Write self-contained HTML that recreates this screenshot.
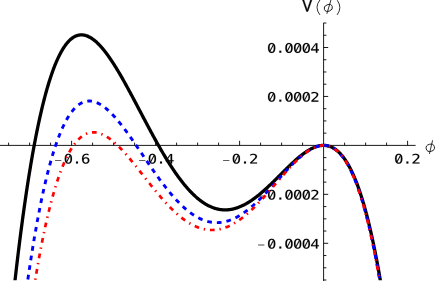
<!DOCTYPE html><html><head><meta charset="utf-8"><style>html,body{margin:0;padding:0;background:#fff;}body{width:436px;height:281px;overflow:hidden;position:relative;}</style></head><body><svg width="436" height="281" viewBox="0 0 436 281" style="position:absolute;left:0;top:0"><defs><clipPath id="c"><rect x="0" y="0" width="436" height="280.3"/></clipPath></defs><rect width="436" height="281" fill="#fff"/><path d="M0,145.4 H415.6 M323.6,22.8 V281 M8.60,145.4 v-2.8 M29.60,145.4 v-2.8 M50.60,145.4 v-2.8 M71.60,145.4 v-4.6 M92.60,145.4 v-2.8 M113.60,145.4 v-2.8 M134.60,145.4 v-2.8 M155.60,145.4 v-4.6 M176.60,145.4 v-2.8 M197.60,145.4 v-2.8 M218.60,145.4 v-2.8 M239.60,145.4 v-4.6 M260.60,145.4 v-2.8 M281.60,145.4 v-2.8 M302.60,145.4 v-2.8 M344.60,145.4 v-2.8 M365.60,145.4 v-2.8 M386.60,145.4 v-2.8 M407.60,145.4 v-4.6 M323.6,280.01 h2.8 M323.6,267.77 h2.8 M323.6,255.54 h2.8 M323.6,243.30 h4.6 M323.6,231.06 h2.8 M323.6,218.83 h2.8 M323.6,206.59 h2.8 M323.6,194.35 h4.6 M323.6,182.11 h2.8 M323.6,169.88 h2.8 M323.6,157.64 h2.8 M323.6,133.16 h2.8 M323.6,120.93 h2.8 M323.6,108.69 h2.8 M323.6,96.45 h4.6 M323.6,84.21 h2.8 M323.6,71.97 h2.8 M323.6,59.74 h2.8 M323.6,47.50 h4.6 M323.6,35.26 h2.8 M323.6,23.03 h2.8" stroke="#000" stroke-width="0.9" fill="none"/><defs><g id="g0"><path d="M616 1360Q475 1360 406 1208Q336 1056 336 745Q336 435 406 283Q475 131 616 131Q758 131 828 283Q897 435 897 745Q897 1056 828 1208Q758 1360 616 1360ZM616 1520Q855 1520 978 1324Q1100 1128 1100 745Q1100 363 978 167Q855 -29 616 -29Q377 -29 255 167Q133 363 133 745Q133 1128 255 1324Q377 1520 616 1520Z"/><path d="M326,256L434,204L906,1234L798,1286Z"/></g><path id="gp" d="M489 305H741V0H489Z"/><path id="g2" d="M373 170H1059V0H152V170Q339 367 479 518Q619 669 672 731Q772 853 807 928Q842 1004 842 1083Q842 1208 768 1279Q695 1350 567 1350Q476 1350 376 1317Q276 1284 164 1217V1421Q267 1470 366 1495Q466 1520 563 1520Q782 1520 916 1404Q1049 1287 1049 1098Q1049 1002 1004 906Q960 810 860 694Q804 629 698 514Q591 399 373 170Z"/><path id="g4" d="M735 1309 264 520H735ZM702 1493H936V520H1135V356H936V0H735V356H102V547Z"/><path id="g6" d="M991 1460V1274Q928 1311 857 1330Q786 1350 709 1350Q517 1350 418 1206Q319 1061 319 780Q367 880 452 934Q537 987 647 987Q863 987 982 854Q1100 722 1100 479Q1100 237 978 104Q856 -29 635 -29Q375 -29 254 158Q133 344 133 745Q133 1123 278 1322Q424 1520 700 1520Q774 1520 848 1504Q922 1489 991 1460ZM631 829Q502 829 428 736Q354 643 354 479Q354 315 428 222Q502 129 631 129Q765 129 833 218Q901 306 901 479Q901 653 833 741Q765 829 631 829Z"/></defs><g fill="#000" stroke="#000"><path d="M55.07,160.50 h6.3" stroke="#333" stroke-width="0.8" fill="none"/><use href="#g0" transform="translate(68.37,163.50) scale(0.0076,-0.0064) translate(-616.5,0)" stroke-width="21.1"/><use href="#gp" transform="translate(77.03,163.50) scale(0.0076,-0.0064) translate(-616.5,0)" stroke-width="21.1"/><use href="#g6" transform="translate(85.69,163.50) scale(0.0076,-0.0064) translate(-616.5,0)" stroke-width="21.1"/></g><g fill="#000" stroke="#000"><path d="M139.07,160.50 h6.3" stroke="#333" stroke-width="0.8" fill="none"/><use href="#g0" transform="translate(152.37,163.50) scale(0.0076,-0.0064) translate(-616.5,0)" stroke-width="21.1"/><use href="#gp" transform="translate(161.03,163.50) scale(0.0076,-0.0064) translate(-616.5,0)" stroke-width="21.1"/><use href="#g4" transform="translate(169.69,163.50) scale(0.0076,-0.0064) translate(-616.5,0)" stroke-width="21.1"/></g><g fill="#000" stroke="#000"><path d="M223.07,160.50 h6.3" stroke="#333" stroke-width="0.8" fill="none"/><use href="#g0" transform="translate(236.37,163.50) scale(0.0076,-0.0064) translate(-616.5,0)" stroke-width="21.1"/><use href="#gp" transform="translate(245.03,163.50) scale(0.0076,-0.0064) translate(-616.5,0)" stroke-width="21.1"/><use href="#g2" transform="translate(253.69,163.50) scale(0.0076,-0.0064) translate(-616.5,0)" stroke-width="21.1"/></g><g fill="#000" stroke="#000"><use href="#g0" transform="translate(398.74,163.50) scale(0.0076,-0.0064) translate(-616.5,0)" stroke-width="21.1"/><use href="#gp" transform="translate(407.40,163.50) scale(0.0076,-0.0064) translate(-616.5,0)" stroke-width="21.1"/><use href="#g2" transform="translate(416.06,163.50) scale(0.0076,-0.0064) translate(-616.5,0)" stroke-width="21.1"/></g><g fill="#000" stroke="#000"><use href="#g0" transform="translate(271.67,52.70) scale(0.0076,-0.0064) translate(-616.5,0)" stroke-width="21.1"/><use href="#gp" transform="translate(280.33,52.70) scale(0.0076,-0.0064) translate(-616.5,0)" stroke-width="21.1"/><use href="#g0" transform="translate(288.99,52.70) scale(0.0076,-0.0064) translate(-616.5,0)" stroke-width="21.1"/><use href="#g0" transform="translate(297.65,52.70) scale(0.0076,-0.0064) translate(-616.5,0)" stroke-width="21.1"/><use href="#g0" transform="translate(306.31,52.70) scale(0.0076,-0.0064) translate(-616.5,0)" stroke-width="21.1"/><use href="#g4" transform="translate(314.97,52.70) scale(0.0076,-0.0064) translate(-616.5,0)" stroke-width="21.1"/></g><g fill="#000" stroke="#000"><use href="#g0" transform="translate(271.67,101.65) scale(0.0076,-0.0064) translate(-616.5,0)" stroke-width="21.1"/><use href="#gp" transform="translate(280.33,101.65) scale(0.0076,-0.0064) translate(-616.5,0)" stroke-width="21.1"/><use href="#g0" transform="translate(288.99,101.65) scale(0.0076,-0.0064) translate(-616.5,0)" stroke-width="21.1"/><use href="#g0" transform="translate(297.65,101.65) scale(0.0076,-0.0064) translate(-616.5,0)" stroke-width="21.1"/><use href="#g0" transform="translate(306.31,101.65) scale(0.0076,-0.0064) translate(-616.5,0)" stroke-width="21.1"/><use href="#g2" transform="translate(314.97,101.65) scale(0.0076,-0.0064) translate(-616.5,0)" stroke-width="21.1"/></g><g fill="#000" stroke="#000"><path d="M258.10,196.05 h6.3" stroke="#a4a4a4" stroke-width="2.0" fill="none"/><use href="#g0" transform="translate(271.67,199.55) scale(0.0076,-0.0064) translate(-616.5,0)" stroke-width="21.1"/><use href="#gp" transform="translate(280.33,199.55) scale(0.0076,-0.0064) translate(-616.5,0)" stroke-width="21.1"/><use href="#g0" transform="translate(288.99,199.55) scale(0.0076,-0.0064) translate(-616.5,0)" stroke-width="21.1"/><use href="#g0" transform="translate(297.65,199.55) scale(0.0076,-0.0064) translate(-616.5,0)" stroke-width="21.1"/><use href="#g0" transform="translate(306.31,199.55) scale(0.0076,-0.0064) translate(-616.5,0)" stroke-width="21.1"/><use href="#g2" transform="translate(314.97,199.55) scale(0.0076,-0.0064) translate(-616.5,0)" stroke-width="21.1"/></g><g fill="#000" stroke="#000"><path d="M258.10,245.00 h6.3" stroke="#a4a4a4" stroke-width="2.0" fill="none"/><use href="#g0" transform="translate(271.67,248.50) scale(0.0076,-0.0064) translate(-616.5,0)" stroke-width="21.1"/><use href="#gp" transform="translate(280.33,248.50) scale(0.0076,-0.0064) translate(-616.5,0)" stroke-width="21.1"/><use href="#g0" transform="translate(288.99,248.50) scale(0.0076,-0.0064) translate(-616.5,0)" stroke-width="21.1"/><use href="#g0" transform="translate(297.65,248.50) scale(0.0076,-0.0064) translate(-616.5,0)" stroke-width="21.1"/><use href="#g0" transform="translate(306.31,248.50) scale(0.0076,-0.0064) translate(-616.5,0)" stroke-width="21.1"/><use href="#g4" transform="translate(314.97,248.50) scale(0.0076,-0.0064) translate(-616.5,0)" stroke-width="21.1"/></g><g clip-path="url(#c)" fill="none"><path d="M4.40,386.32 L4.98,379.93 L5.55,373.61 L6.13,367.37 L6.71,361.21 L7.28,355.12 L7.86,349.10 L8.44,343.16 L9.01,337.29 L9.59,331.49 L10.17,325.77 L10.75,320.11 L11.32,314.53 L11.90,309.02 L12.48,303.58 L13.05,298.20 L13.63,292.90 L14.21,287.67 L14.78,282.50 L15.36,277.40 L15.94,272.37 L16.51,267.41 L17.09,262.51 L17.67,257.68 L18.24,252.91 L18.82,248.21 L19.40,243.58 L19.97,239.00 L20.55,234.50 L21.13,230.05 L21.70,225.67 L22.28,221.35 L22.86,217.09 L23.44,212.90 L24.01,208.76 L24.59,204.69 L25.17,200.67 L25.74,196.72 L26.32,192.83 L26.90,188.99 L27.47,185.21 L28.05,181.49 L28.63,177.83 L29.20,174.23 L29.78,170.68 L30.36,167.19 L30.93,163.76 L31.51,160.38 L32.09,157.06 L32.66,153.79 L33.24,150.57 L33.82,147.41 L34.39,144.30 L34.97,141.25 L35.55,138.25 L36.13,135.30 L36.70,132.40 L37.28,129.56 L37.86,126.76 L38.43,124.02 L39.01,121.32 L39.59,118.68 L40.16,116.08 L40.74,113.54 L41.32,111.04 L41.89,108.59 L42.47,106.19 L43.05,103.84 L43.62,101.53 L44.20,99.27 L44.78,97.06 L45.35,94.89 L45.93,92.77 L46.51,90.69 L47.08,88.66 L47.66,86.68 L48.24,84.73 L48.82,82.83 L49.39,80.98 L49.97,79.16 L50.55,77.39 L51.12,75.66 L51.70,73.97 L52.28,72.33 L52.85,70.72 L53.43,69.16 L54.01,67.63 L54.58,66.15 L55.16,64.70 L55.74,63.30 L56.31,61.93 L56.89,60.60 L57.47,59.31 L58.04,58.06 L58.62,56.84 L59.20,55.66 L59.78,54.52 L60.35,53.41 L60.93,52.34 L61.51,51.31 L62.08,50.31 L62.66,49.35 L63.24,48.42 L63.81,47.52 L64.39,46.66 L64.97,45.83 L65.54,45.04 L66.12,44.27 L66.70,43.54 L67.27,42.85 L67.85,42.18 L68.43,41.55 L69.00,40.94 L69.58,40.37 L70.16,39.83 L70.73,39.31 L71.31,38.83 L71.89,38.38 L72.47,37.96 L73.04,37.56 L73.62,37.19 L74.20,36.86 L74.77,36.55 L75.35,36.26 L75.93,36.01 L76.50,35.78 L77.08,35.58 L77.66,35.40 L78.23,35.25 L78.81,35.13 L79.39,35.03 L79.96,34.95 L80.54,34.90 L81.12,34.88 L81.69,34.88 L82.27,34.90 L82.85,34.95 L83.42,35.02 L84.00,35.11 L84.58,35.22 L85.16,35.36 L85.73,35.52 L86.31,35.70 L86.89,35.90 L87.46,36.13 L88.04,36.37 L88.62,36.64 L89.19,36.92 L89.77,37.23 L90.35,37.55 L90.92,37.90 L91.50,38.26 L92.08,38.64 L92.65,39.04 L93.23,39.46 L93.81,39.90 L94.38,40.35 L94.96,40.82 L95.54,41.31 L96.12,41.82 L96.69,42.34 L97.27,42.88 L97.85,43.44 L98.42,44.01 L99.00,44.59 L99.58,45.20 L100.15,45.81 L100.73,46.44 L101.31,47.09 L101.88,47.75 L102.46,48.43 L103.04,49.11 L103.61,49.82 L104.19,50.53 L104.77,51.26 L105.34,52.00 L105.92,52.75 L106.50,53.52 L107.07,54.29 L107.65,55.08 L108.23,55.88 L108.81,56.70 L109.38,57.52 L109.96,58.35 L110.54,59.20 L111.11,60.05 L111.69,60.91 L112.27,61.79 L112.84,62.67 L113.42,63.57 L114.00,64.47 L114.57,65.38 L115.15,66.30 L115.73,67.23 L116.30,68.16 L116.88,69.11 L117.46,70.06 L118.03,71.02 L118.61,71.99 L119.19,72.96 L119.76,73.94 L120.34,74.93 L120.92,75.92 L121.50,76.93 L122.07,77.93 L122.65,78.94 L123.23,79.96 L123.80,80.99 L124.38,82.01 L124.96,83.05 L125.53,84.09 L126.11,85.13 L126.69,86.18 L127.26,87.23 L127.84,88.28 L128.42,89.34 L128.99,90.41 L129.57,91.47 L130.15,92.54 L130.72,93.62 L131.30,94.69 L131.88,95.77 L132.45,96.85 L133.03,97.93 L133.61,99.02 L134.19,100.11 L134.76,101.20 L135.34,102.29 L135.92,103.38 L136.49,104.47 L137.07,105.56 L137.65,106.66 L138.22,107.76 L138.80,108.85 L139.38,109.95 L139.95,111.04 L140.53,112.14 L141.11,113.24 L141.68,114.33 L142.26,115.43 L142.84,116.52 L143.41,117.62 L143.99,118.71 L144.57,119.80 L145.15,120.89 L145.72,121.98 L146.30,123.07 L146.88,124.15 L147.45,125.24 L148.03,126.32 L148.61,127.40 L149.18,128.48 L149.76,129.55 L150.34,130.62 L150.91,131.69 L151.49,132.76 L152.07,133.82 L152.64,134.88 L153.22,135.94 L153.80,136.99 L154.37,138.04 L154.95,139.08 L155.53,140.12 L156.10,141.16 L156.68,142.20 L157.26,143.22 L157.84,144.25 L158.41,145.27 L158.99,146.28 L159.57,147.29 L160.14,148.30 L160.72,149.30 L161.30,150.30 L161.87,151.29 L162.45,152.27 L163.03,153.25 L163.60,154.22 L164.18,155.19 L164.76,156.15 L165.33,157.11 L165.91,158.06 L166.49,159.00 L167.06,159.94 L167.64,160.87 L168.22,161.80 L168.79,162.71 L169.37,163.63 L169.95,164.53 L170.53,165.43 L171.10,166.32 L171.68,167.20 L172.26,168.08 L172.83,168.95 L173.41,169.81 L173.99,170.66 L174.56,171.51 L175.14,172.35 L175.72,173.18 L176.29,174.01 L176.87,174.82 L177.45,175.63 L178.02,176.43 L178.60,177.22 L179.18,178.00 L179.75,178.78 L180.33,179.55 L180.91,180.30 L181.48,181.05 L182.06,181.80 L182.64,182.53 L183.22,183.25 L183.79,183.97 L184.37,184.68 L184.95,185.37 L185.52,186.06 L186.10,186.74 L186.68,187.41 L187.25,188.07 L187.83,188.73 L188.41,189.37 L188.98,190.00 L189.56,190.63 L190.14,191.24 L190.71,191.85 L191.29,192.45 L191.87,193.03 L192.44,193.61 L193.02,194.18 L193.60,194.73 L194.18,195.28 L194.75,195.82 L195.33,196.35 L195.91,196.87 L196.48,197.38 L197.06,197.88 L197.64,198.37 L198.21,198.85 L198.79,199.31 L199.37,199.77 L199.94,200.22 L200.52,200.66 L201.10,201.09 L201.67,201.51 L202.25,201.92 L202.83,202.32 L203.40,202.71 L203.98,203.08 L204.56,203.45 L205.13,203.81 L205.71,204.16 L206.29,204.49 L206.87,204.82 L207.44,205.14 L208.02,205.45 L208.60,205.74 L209.17,206.03 L209.75,206.30 L210.33,206.57 L210.90,206.82 L211.48,207.07 L212.06,207.30 L212.63,207.53 L213.21,207.74 L213.79,207.95 L214.36,208.14 L214.94,208.32 L215.52,208.49 L216.09,208.66 L216.67,208.81 L217.25,208.95 L217.82,209.08 L218.40,209.21 L218.98,209.32 L219.56,209.42 L220.13,209.51 L220.71,209.59 L221.29,209.66 L221.86,209.72 L222.44,209.78 L223.02,209.82 L223.59,209.85 L224.17,209.87 L224.75,209.88 L225.32,209.88 L225.90,209.87 L226.48,209.86 L227.05,209.83 L227.63,209.79 L228.21,209.74 L228.78,209.69 L229.36,209.62 L229.94,209.54 L230.52,209.46 L231.09,209.36 L231.67,209.26 L232.25,209.14 L232.82,209.02 L233.40,208.89 L233.98,208.75 L234.55,208.60 L235.13,208.44 L235.71,208.27 L236.28,208.09 L236.86,207.90 L237.44,207.71 L238.01,207.50 L238.59,207.29 L239.17,207.07 L239.74,206.84 L240.32,206.60 L240.90,206.35 L241.47,206.10 L242.05,205.83 L242.63,205.56 L243.21,205.28 L243.78,204.99 L244.36,204.70 L244.94,204.39 L245.51,204.08 L246.09,203.76 L246.67,203.44 L247.24,203.10 L247.82,202.76 L248.40,202.41 L248.97,202.05 L249.55,201.69 L250.13,201.32 L250.70,200.94 L251.28,200.56 L251.86,200.16 L252.43,199.76 L253.01,199.36 L253.59,198.95 L254.16,198.53 L254.74,198.11 L255.32,197.68 L255.90,197.24 L256.47,196.80 L257.05,196.35 L257.63,195.89 L258.20,195.43 L258.78,194.97 L259.36,194.50 L259.93,194.02 L260.51,193.54 L261.09,193.06 L261.66,192.56 L262.24,192.07 L262.82,191.57 L263.39,191.06 L263.97,190.55 L264.55,190.04 L265.12,189.52 L265.70,189.00 L266.28,188.47 L266.85,187.94 L267.43,187.41 L268.01,186.87 L268.59,186.33 L269.16,185.79 L269.74,185.24 L270.32,184.70 L270.89,184.14 L271.47,183.59 L272.05,183.03 L272.62,182.47 L273.20,181.91 L273.78,181.35 L274.35,180.78 L274.93,180.21 L275.51,179.65 L276.08,179.08 L276.66,178.50 L277.24,177.93 L277.81,177.36 L278.39,176.78 L278.97,176.21 L279.55,175.63 L280.12,175.06 L280.70,174.48 L281.28,173.91 L281.85,173.33 L282.43,172.76 L283.01,172.18 L283.58,171.61 L284.16,171.04 L284.74,170.46 L285.31,169.89 L285.89,169.33 L286.47,168.76 L287.04,168.19 L287.62,167.63 L288.20,167.07 L288.77,166.51 L289.35,165.95 L289.93,165.40 L290.50,164.85 L291.08,164.30 L291.66,163.76 L292.24,163.22 L292.81,162.68 L293.39,162.15 L293.97,161.62 L294.54,161.10 L295.12,160.58 L295.70,160.07 L296.27,159.56 L296.85,159.05 L297.43,158.56 L298.00,158.06 L298.58,157.58 L299.16,157.09 L299.73,156.62 L300.31,156.15 L300.89,155.69 L301.46,155.23 L302.04,154.79 L302.62,154.35 L303.19,153.91 L303.77,153.49 L304.35,153.07 L304.93,152.66 L305.50,152.26 L306.08,151.87 L306.66,151.49 L307.23,151.12 L307.81,150.75 L308.39,150.40 L308.96,150.05 L309.54,149.72 L310.12,149.40 L310.69,149.08 L311.27,148.78 L311.85,148.49 L312.42,148.21 L313.00,147.94 L313.58,147.69 L314.15,147.44 L314.73,147.21 L315.31,146.99 L315.88,146.79 L316.46,146.59 L317.04,146.42 L317.62,146.25 L318.19,146.10 L318.77,145.96 L319.35,145.84 L319.92,145.73 L320.50,145.63 L321.08,145.56 L321.65,145.49 L322.23,145.45 L322.81,145.42 L323.38,145.40 L323.96,145.40 L324.54,145.42 L325.11,145.46 L325.69,145.51 L326.27,145.58 L326.84,145.67 L327.42,145.78 L328.00,145.91 L328.58,146.05 L329.15,146.22 L329.73,146.40 L330.31,146.61 L330.88,146.83 L331.46,147.08 L332.04,147.35 L332.61,147.63 L333.19,147.94 L333.77,148.27 L334.34,148.63 L334.92,149.00 L335.50,149.40 L336.07,149.82 L336.65,150.27 L337.23,150.74 L337.80,151.23 L338.38,151.75 L338.96,152.29 L339.53,152.86 L340.11,153.46 L340.69,154.08 L341.27,154.72 L341.84,155.39 L342.42,156.09 L343.00,156.82 L343.57,157.57 L344.15,158.36 L344.73,159.17 L345.30,160.01 L345.88,160.88 L346.46,161.78 L347.03,162.70 L347.61,163.66 L348.19,164.65 L348.76,165.67 L349.34,166.72 L349.92,167.81 L350.49,168.92 L351.07,170.07 L351.65,171.25 L352.22,172.46 L352.80,173.71 L353.38,174.99 L353.96,176.31 L354.53,177.66 L355.11,179.04 L355.69,180.47 L356.26,181.92 L356.84,183.42 L357.42,184.95 L357.99,186.52 L358.57,188.12 L359.15,189.77 L359.72,191.45 L360.30,193.17 L360.88,194.93 L361.45,196.73 L362.03,198.57 L362.61,200.45 L363.18,202.37 L363.76,204.34 L364.34,206.34 L364.92,208.39 L365.49,210.48 L366.07,212.61 L366.65,214.79 L367.22,217.01 L367.80,219.27 L368.38,221.58 L368.95,223.94 L369.53,226.34 L370.11,228.79 L370.68,231.28 L371.26,233.82 L371.84,236.41 L372.41,239.05 L372.99,241.73 L373.57,244.46 L374.14,247.25 L374.72,250.08 L375.30,252.96 L375.87,255.90 L376.45,258.88 L377.03,261.92 L377.61,265.01 L378.18,268.15 L378.76,271.35 L379.34,274.60 L379.91,277.90 L380.49,281.26 L381.07,284.67 L381.64,288.14 L382.22,291.66 L382.80,295.24 L383.37,298.88 L383.95,302.58 L384.53,306.33 L385.10,310.14 L385.68,314.02 L386.26,317.95 L386.83,321.94 L387.41,325.99 L387.99,330.10 L388.56,334.28 L389.14,338.51 L389.72,342.81 L390.30,347.17 L390.87,351.60 L391.45,356.09 L392.03,360.65 L392.60,365.27 L393.18,369.95 L393.76,374.70 L394.33,379.52 L394.91,384.41 L395.49,389.37 L396.06,394.39 L396.64,399.48 L397.22,404.64 L397.79,409.88 L398.37,415.18 L398.95,420.55 L399.52,426.00 L400.10,431.52 L400.68,437.11 L401.25,442.77 L401.83,448.51 L402.41,454.32 L402.99,460.21 L403.56,466.18 L404.14,472.22 L404.72,478.34 L405.29,484.53 L405.87,490.80 L406.45,497.16 L407.02,503.59 L407.60,510.10" stroke="#000" stroke-width="3.3"/><path d="M4.40,494.71 L4.98,488.05 L5.55,481.47 L6.13,474.96 L6.71,468.52 L7.28,462.15 L7.86,455.86 L8.44,449.64 L9.01,443.50 L9.59,437.42 L10.17,431.42 L10.75,425.48 L11.32,419.62 L11.90,413.82 L12.48,408.10 L13.05,402.44 L13.63,396.86 L14.21,391.34 L14.78,385.89 L15.36,380.50 L15.94,375.18 L16.51,369.93 L17.09,364.74 L17.67,359.62 L18.24,354.57 L18.82,349.58 L19.40,344.65 L19.97,339.78 L20.55,334.98 L21.13,330.24 L21.70,325.57 L22.28,320.95 L22.86,316.40 L23.44,311.91 L24.01,307.48 L24.59,303.11 L25.17,298.80 L25.74,294.55 L26.32,290.35 L26.90,286.22 L27.47,282.14 L28.05,278.12 L28.63,274.16 L29.20,270.26 L29.78,266.41 L30.36,262.62 L30.93,258.88 L31.51,255.20 L32.09,251.57 L32.66,248.00 L33.24,244.48 L33.82,241.01 L34.39,237.60 L34.97,234.24 L35.55,230.94 L36.13,227.68 L36.70,224.48 L37.28,221.33 L37.86,218.22 L38.43,215.17 L39.01,212.17 L39.59,209.22 L40.16,206.32 L40.74,203.47 L41.32,200.66 L41.89,197.90 L42.47,195.19 L43.05,192.53 L43.62,189.92 L44.20,187.35 L44.78,184.83 L45.35,182.35 L45.93,179.92 L46.51,177.53 L47.08,175.19 L47.66,172.89 L48.24,170.64 L48.82,168.43 L49.39,166.26 L49.97,164.14 L50.55,162.05 L51.12,160.01 L51.70,158.01 L52.28,156.06 L52.85,154.14 L53.43,152.27 L54.01,150.43 L54.58,148.64 L55.16,146.88 L55.74,145.16 L56.31,143.48 L56.89,141.84 L57.47,140.24 L58.04,138.68 L58.62,137.15 L59.20,135.66 L59.78,134.21 L60.35,132.79 L60.93,131.41 L61.51,130.07 L62.08,128.76 L62.66,127.48 L63.24,126.24 L63.81,125.04 L64.39,123.87 L64.97,122.73 L65.54,121.62 L66.12,120.55 L66.70,119.51 L67.27,118.51 L67.85,117.53 L68.43,116.59 L69.00,115.68 L69.58,114.79 L70.16,113.94 L70.73,113.12 L71.31,112.33 L71.89,111.57 L72.47,110.84 L73.04,110.14 L73.62,109.47 L74.20,108.82 L74.77,108.20 L75.35,107.62 L75.93,107.05 L76.50,106.52 L77.08,106.01 L77.66,105.53 L78.23,105.08 L78.81,104.65 L79.39,104.24 L79.96,103.87 L80.54,103.51 L81.12,103.18 L81.69,102.88 L82.27,102.60 L82.85,102.35 L83.42,102.11 L84.00,101.90 L84.58,101.72 L85.16,101.55 L85.73,101.41 L86.31,101.29 L86.89,101.20 L87.46,101.12 L88.04,101.07 L88.62,101.03 L89.19,101.02 L89.77,101.03 L90.35,101.06 L90.92,101.10 L91.50,101.17 L92.08,101.26 L92.65,101.36 L93.23,101.48 L93.81,101.63 L94.38,101.79 L94.96,101.96 L95.54,102.16 L96.12,102.37 L96.69,102.60 L97.27,102.85 L97.85,103.11 L98.42,103.39 L99.00,103.69 L99.58,104.00 L100.15,104.33 L100.73,104.67 L101.31,105.03 L101.88,105.40 L102.46,105.79 L103.04,106.19 L103.61,106.61 L104.19,107.03 L104.77,107.48 L105.34,107.93 L105.92,108.40 L106.50,108.88 L107.07,109.38 L107.65,109.88 L108.23,110.40 L108.81,110.93 L109.38,111.47 L109.96,112.03 L110.54,112.59 L111.11,113.17 L111.69,113.75 L112.27,114.35 L112.84,114.95 L113.42,115.57 L114.00,116.20 L114.57,116.83 L115.15,117.48 L115.73,118.13 L116.30,118.79 L116.88,119.46 L117.46,120.14 L118.03,120.83 L118.61,121.53 L119.19,122.23 L119.76,122.94 L120.34,123.66 L120.92,124.38 L121.50,125.11 L122.07,125.85 L122.65,126.60 L123.23,127.35 L123.80,128.11 L124.38,128.87 L124.96,129.64 L125.53,130.42 L126.11,131.20 L126.69,131.98 L127.26,132.77 L127.84,133.56 L128.42,134.36 L128.99,135.17 L129.57,135.97 L130.15,136.78 L130.72,137.60 L131.30,138.42 L131.88,139.24 L132.45,140.06 L133.03,140.89 L133.61,141.72 L134.19,142.56 L134.76,143.39 L135.34,144.23 L135.92,145.07 L136.49,145.91 L137.07,146.76 L137.65,147.60 L138.22,148.45 L138.80,149.29 L139.38,150.14 L139.95,150.99 L140.53,151.84 L141.11,152.69 L141.68,153.55 L142.26,154.40 L142.84,155.25 L143.41,156.10 L143.99,156.95 L144.57,157.80 L145.15,158.65 L145.72,159.50 L146.30,160.35 L146.88,161.20 L147.45,162.04 L148.03,162.89 L148.61,163.73 L149.18,164.57 L149.76,165.41 L150.34,166.25 L150.91,167.09 L151.49,167.92 L152.07,168.75 L152.64,169.58 L153.22,170.41 L153.80,171.23 L154.37,172.05 L154.95,172.87 L155.53,173.68 L156.10,174.49 L156.68,175.30 L157.26,176.10 L157.84,176.90 L158.41,177.70 L158.99,178.49 L159.57,179.28 L160.14,180.07 L160.72,180.85 L161.30,181.62 L161.87,182.39 L162.45,183.16 L163.03,183.92 L163.60,184.68 L164.18,185.43 L164.76,186.18 L165.33,186.92 L165.91,187.65 L166.49,188.39 L167.06,189.11 L167.64,189.83 L168.22,190.54 L168.79,191.25 L169.37,191.96 L169.95,192.65 L170.53,193.34 L171.10,194.03 L171.68,194.70 L172.26,195.37 L172.83,196.04 L173.41,196.70 L173.99,197.35 L174.56,197.99 L175.14,198.63 L175.72,199.26 L176.29,199.89 L176.87,200.50 L177.45,201.11 L178.02,201.71 L178.60,202.31 L179.18,202.90 L179.75,203.48 L180.33,204.05 L180.91,204.61 L181.48,205.17 L182.06,205.72 L182.64,206.26 L183.22,206.80 L183.79,207.32 L184.37,207.84 L184.95,208.35 L185.52,208.85 L186.10,209.34 L186.68,209.83 L187.25,210.31 L187.83,210.77 L188.41,211.23 L188.98,211.68 L189.56,212.13 L190.14,212.56 L190.71,212.99 L191.29,213.40 L191.87,213.81 L192.44,214.21 L193.02,214.60 L193.60,214.98 L194.18,215.35 L194.75,215.72 L195.33,216.07 L195.91,216.42 L196.48,216.75 L197.06,217.08 L197.64,217.40 L198.21,217.71 L198.79,218.01 L199.37,218.30 L199.94,218.58 L200.52,218.85 L201.10,219.11 L201.67,219.37 L202.25,219.61 L202.83,219.84 L203.40,220.07 L203.98,220.28 L204.56,220.49 L205.13,220.69 L205.71,220.87 L206.29,221.05 L206.87,221.22 L207.44,221.38 L208.02,221.53 L208.60,221.67 L209.17,221.80 L209.75,221.92 L210.33,222.03 L210.90,222.13 L211.48,222.22 L212.06,222.31 L212.63,222.38 L213.21,222.44 L213.79,222.50 L214.36,222.54 L214.94,222.58 L215.52,222.60 L216.09,222.62 L216.67,222.63 L217.25,222.62 L217.82,222.61 L218.40,222.59 L218.98,222.56 L219.56,222.52 L220.13,222.47 L220.71,222.41 L221.29,222.34 L221.86,222.26 L222.44,222.18 L223.02,222.08 L223.59,221.97 L224.17,221.86 L224.75,221.74 L225.32,221.60 L225.90,221.46 L226.48,221.31 L227.05,221.15 L227.63,220.98 L228.21,220.80 L228.78,220.62 L229.36,220.42 L229.94,220.22 L230.52,220.00 L231.09,219.78 L231.67,219.55 L232.25,219.31 L232.82,219.07 L233.40,218.81 L233.98,218.55 L234.55,218.27 L235.13,217.99 L235.71,217.70 L236.28,217.40 L236.86,217.10 L237.44,216.79 L238.01,216.46 L238.59,216.13 L239.17,215.80 L239.74,215.45 L240.32,215.10 L240.90,214.74 L241.47,214.37 L242.05,213.99 L242.63,213.61 L243.21,213.22 L243.78,212.82 L244.36,212.41 L244.94,212.00 L245.51,211.58 L246.09,211.15 L246.67,210.72 L247.24,210.28 L247.82,209.83 L248.40,209.38 L248.97,208.92 L249.55,208.45 L250.13,207.98 L250.70,207.50 L251.28,207.02 L251.86,206.53 L252.43,206.03 L253.01,205.52 L253.59,205.02 L254.16,204.50 L254.74,203.98 L255.32,203.46 L255.90,202.93 L256.47,202.39 L257.05,201.85 L257.63,201.30 L258.20,200.75 L258.78,200.19 L259.36,199.63 L259.93,199.07 L260.51,198.50 L261.09,197.93 L261.66,197.35 L262.24,196.77 L262.82,196.18 L263.39,195.59 L263.97,195.00 L264.55,194.40 L265.12,193.80 L265.70,193.20 L266.28,192.59 L266.85,191.98 L267.43,191.37 L268.01,190.75 L268.59,190.14 L269.16,189.52 L269.74,188.89 L270.32,188.27 L270.89,187.64 L271.47,187.01 L272.05,186.38 L272.62,185.75 L273.20,185.12 L273.78,184.48 L274.35,183.85 L274.93,183.21 L275.51,182.57 L276.08,181.94 L276.66,181.30 L277.24,180.66 L277.81,180.02 L278.39,179.38 L278.97,178.74 L279.55,178.10 L280.12,177.46 L280.70,176.83 L281.28,176.19 L281.85,175.56 L282.43,174.92 L283.01,174.29 L283.58,173.66 L284.16,173.03 L284.74,172.40 L285.31,171.77 L285.89,171.15 L286.47,170.53 L287.04,169.91 L287.62,169.29 L288.20,168.68 L288.77,168.07 L289.35,167.47 L289.93,166.86 L290.50,166.27 L291.08,165.67 L291.66,165.08 L292.24,164.49 L292.81,163.91 L293.39,163.34 L293.97,162.76 L294.54,162.20 L295.12,161.64 L295.70,161.08 L296.27,160.53 L296.85,159.99 L297.43,159.45 L298.00,158.92 L298.58,158.39 L299.16,157.88 L299.73,157.36 L300.31,156.86 L300.89,156.37 L301.46,155.88 L302.04,155.40 L302.62,154.92 L303.19,154.46 L303.77,154.01 L304.35,153.56 L304.93,153.12 L305.50,152.70 L306.08,152.28 L306.66,151.87 L307.23,151.47 L307.81,151.08 L308.39,150.71 L308.96,150.34 L309.54,149.98 L310.12,149.64 L310.69,149.31 L311.27,148.98 L311.85,148.68 L312.42,148.38 L313.00,148.09 L313.58,147.82 L314.15,147.56 L314.73,147.32 L315.31,147.09 L315.88,146.87 L316.46,146.66 L317.04,146.47 L317.62,146.30 L318.19,146.14 L318.77,145.99 L319.35,145.86 L319.92,145.75 L320.50,145.65 L321.08,145.56 L321.65,145.50 L322.23,145.45 L322.81,145.42 L323.38,145.40 L323.96,145.40 L324.54,145.42 L325.11,145.46 L325.69,145.52 L326.27,145.59 L326.84,145.69 L327.42,145.80 L328.00,145.93 L328.58,146.09 L329.15,146.26 L329.73,146.45 L330.31,146.67 L330.88,146.90 L331.46,147.16 L332.04,147.44 L332.61,147.74 L333.19,148.06 L333.77,148.41 L334.34,148.78 L334.92,149.17 L335.50,149.59 L336.07,150.03 L336.65,150.49 L337.23,150.98 L337.80,151.50 L338.38,152.03 L338.96,152.60 L339.53,153.19 L340.11,153.81 L340.69,154.45 L341.27,155.12 L341.84,155.82 L342.42,156.55 L343.00,157.30 L343.57,158.08 L344.15,158.89 L344.73,159.73 L345.30,160.60 L345.88,161.50 L346.46,162.43 L347.03,163.39 L347.61,164.38 L348.19,165.40 L348.76,166.46 L349.34,167.54 L349.92,168.66 L350.49,169.81 L351.07,171.00 L351.65,172.21 L352.22,173.46 L352.80,174.75 L353.38,176.07 L353.96,177.42 L354.53,178.81 L355.11,180.24 L355.69,181.70 L356.26,183.20 L356.84,184.73 L357.42,186.30 L357.99,187.91 L358.57,189.56 L359.15,191.25 L359.72,192.97 L360.30,194.74 L360.88,196.54 L361.45,198.39 L362.03,200.27 L362.61,202.19 L363.18,204.16 L363.76,206.17 L364.34,208.22 L364.92,210.31 L365.49,212.45 L366.07,214.63 L366.65,216.85 L367.22,219.12 L367.80,221.43 L368.38,223.79 L368.95,226.19 L369.53,228.64 L370.11,231.13 L370.68,233.67 L371.26,236.26 L371.84,238.89 L372.41,241.58 L372.99,244.31 L373.57,247.09 L374.14,249.92 L374.72,252.80 L375.30,255.73 L375.87,258.71 L376.45,261.75 L377.03,264.83 L377.61,267.97 L378.18,271.16 L378.76,274.40 L379.34,277.69 L379.91,281.04 L380.49,284.44 L381.07,287.90 L381.64,291.42 L382.22,294.99 L382.80,298.61 L383.37,302.29 L383.95,306.03 L384.53,309.83 L385.10,313.69 L385.68,317.60 L386.26,321.57 L386.83,325.61 L387.41,329.70 L387.99,333.85 L388.56,338.07 L389.14,342.34 L389.72,346.68 L390.30,351.08 L390.87,355.54 L391.45,360.07 L392.03,364.66 L392.60,369.32 L393.18,374.04 L393.76,378.83 L394.33,383.68 L394.91,388.60 L395.49,393.59 L396.06,398.64 L396.64,403.76 L397.22,408.95 L397.79,414.21 L398.37,419.54 L398.95,424.94 L399.52,430.41 L400.10,435.95 L400.68,441.57 L401.25,447.25 L401.83,453.01 L402.41,458.85 L402.99,464.75 L403.56,470.73 L404.14,476.79 L404.72,482.92 L405.29,489.13 L405.87,495.41 L406.45,501.78 L407.02,508.22 L407.60,514.73" stroke="#0000ff" stroke-width="2.9" stroke-dasharray="4.7 4.99" stroke-dashoffset="6.29"/><path d="M4.40,553.36 L4.98,546.45 L5.55,539.63 L6.13,532.88 L6.71,526.20 L7.28,519.60 L7.86,513.07 L8.44,506.62 L9.01,500.24 L9.59,493.93 L10.17,487.69 L10.75,481.53 L11.32,475.44 L11.90,469.41 L12.48,463.46 L13.05,457.58 L13.63,451.77 L14.21,446.03 L14.78,440.35 L15.36,434.74 L15.94,429.21 L16.51,423.73 L17.09,418.33 L17.67,412.99 L18.24,407.72 L18.82,402.51 L19.40,397.37 L19.97,392.29 L20.55,387.28 L21.13,382.32 L21.70,377.44 L22.28,372.61 L22.86,367.85 L23.44,363.15 L24.01,358.51 L24.59,353.94 L25.17,349.42 L25.74,344.96 L26.32,340.57 L26.90,336.23 L27.47,331.95 L28.05,327.73 L28.63,323.57 L29.20,319.46 L29.78,315.42 L30.36,311.43 L30.93,307.49 L31.51,303.61 L32.09,299.79 L32.66,296.02 L33.24,292.31 L33.82,288.65 L34.39,285.05 L34.97,281.50 L35.55,278.00 L36.13,274.55 L36.70,271.16 L37.28,267.82 L37.86,264.53 L38.43,261.29 L39.01,258.10 L39.59,254.97 L40.16,251.88 L40.74,248.84 L41.32,245.85 L41.89,242.91 L42.47,240.02 L43.05,237.18 L43.62,234.38 L44.20,231.63 L44.78,228.93 L45.35,226.27 L45.93,223.66 L46.51,221.10 L47.08,218.58 L47.66,216.11 L48.24,213.68 L48.82,211.29 L49.39,208.95 L49.97,206.65 L50.55,204.39 L51.12,202.18 L51.70,200.01 L52.28,197.88 L52.85,195.79 L53.43,193.75 L54.01,191.74 L54.58,189.78 L55.16,187.85 L55.74,185.97 L56.31,184.12 L56.89,182.31 L57.47,180.54 L58.04,178.81 L58.62,177.12 L59.20,175.47 L59.78,173.85 L60.35,172.27 L60.93,170.72 L61.51,169.22 L62.08,167.74 L62.66,166.31 L63.24,164.91 L63.81,163.54 L64.39,162.21 L64.97,160.91 L65.54,159.64 L66.12,158.41 L66.70,157.21 L67.27,156.05 L67.85,154.92 L68.43,153.82 L69.00,152.75 L69.58,151.71 L70.16,150.70 L70.73,149.73 L71.31,148.78 L71.89,147.86 L72.47,146.98 L73.04,146.12 L73.62,145.30 L74.20,144.50 L74.77,143.73 L75.35,142.99 L75.93,142.27 L76.50,141.59 L77.08,140.93 L77.66,140.30 L78.23,139.69 L78.81,139.11 L79.39,138.56 L79.96,138.03 L80.54,137.53 L81.12,137.05 L81.69,136.60 L82.27,136.18 L82.85,135.77 L83.42,135.39 L84.00,135.04 L84.58,134.70 L85.16,134.40 L85.73,134.11 L86.31,133.84 L86.89,133.60 L87.46,133.38 L88.04,133.18 L88.62,133.01 L89.19,132.85 L89.77,132.71 L90.35,132.60 L90.92,132.50 L91.50,132.43 L92.08,132.37 L92.65,132.34 L93.23,132.32 L93.81,132.32 L94.38,132.34 L94.96,132.38 L95.54,132.43 L96.12,132.51 L96.69,132.60 L97.27,132.71 L97.85,132.83 L98.42,132.97 L99.00,133.13 L99.58,133.31 L100.15,133.50 L100.73,133.70 L101.31,133.92 L101.88,134.16 L102.46,134.41 L103.04,134.67 L103.61,134.95 L104.19,135.25 L104.77,135.56 L105.34,135.88 L105.92,136.21 L106.50,136.56 L107.07,136.92 L107.65,137.29 L108.23,137.68 L108.81,138.07 L109.38,138.48 L109.96,138.90 L110.54,139.33 L111.11,139.78 L111.69,140.23 L112.27,140.70 L112.84,141.17 L113.42,141.66 L114.00,142.15 L114.57,142.66 L115.15,143.17 L115.73,143.69 L116.30,144.23 L116.88,144.77 L117.46,145.32 L118.03,145.88 L118.61,146.45 L119.19,147.02 L119.76,147.60 L120.34,148.20 L120.92,148.79 L121.50,149.40 L122.07,150.01 L122.65,150.63 L123.23,151.25 L123.80,151.89 L124.38,152.52 L124.96,153.17 L125.53,153.82 L126.11,154.47 L126.69,155.13 L127.26,155.80 L127.84,156.47 L128.42,157.14 L128.99,157.82 L129.57,158.50 L130.15,159.19 L130.72,159.88 L131.30,160.58 L131.88,161.28 L132.45,161.98 L133.03,162.69 L133.61,163.40 L134.19,164.11 L134.76,164.82 L135.34,165.54 L135.92,166.26 L136.49,166.98 L137.07,167.70 L137.65,168.43 L138.22,169.16 L138.80,169.88 L139.38,170.61 L139.95,171.34 L140.53,172.07 L141.11,172.81 L141.68,173.54 L142.26,174.27 L142.84,175.01 L143.41,175.74 L143.99,176.48 L144.57,177.21 L145.15,177.94 L145.72,178.68 L146.30,179.41 L146.88,180.14 L147.45,180.87 L148.03,181.60 L148.61,182.33 L149.18,183.05 L149.76,183.78 L150.34,184.50 L150.91,185.22 L151.49,185.94 L152.07,186.66 L152.64,187.38 L153.22,188.09 L153.80,188.80 L154.37,189.51 L154.95,190.21 L155.53,190.92 L156.10,191.62 L156.68,192.31 L157.26,193.00 L157.84,193.69 L158.41,194.38 L158.99,195.06 L159.57,195.74 L160.14,196.42 L160.72,197.09 L161.30,197.75 L161.87,198.41 L162.45,199.07 L163.03,199.73 L163.60,200.37 L164.18,201.02 L164.76,201.66 L165.33,202.29 L165.91,202.92 L166.49,203.55 L167.06,204.16 L167.64,204.78 L168.22,205.39 L168.79,205.99 L169.37,206.59 L169.95,207.18 L170.53,207.76 L171.10,208.34 L171.68,208.92 L172.26,209.48 L172.83,210.04 L173.41,210.60 L173.99,211.15 L174.56,211.69 L175.14,212.22 L175.72,212.75 L176.29,213.27 L176.87,213.79 L177.45,214.30 L178.02,214.80 L178.60,215.29 L179.18,215.78 L179.75,216.26 L180.33,216.73 L180.91,217.20 L181.48,217.66 L182.06,218.11 L182.64,218.55 L183.22,218.99 L183.79,219.41 L184.37,219.83 L184.95,220.25 L185.52,220.65 L186.10,221.05 L186.68,221.44 L187.25,221.82 L187.83,222.19 L188.41,222.55 L188.98,222.91 L189.56,223.26 L190.14,223.60 L190.71,223.93 L191.29,224.25 L191.87,224.57 L192.44,224.87 L193.02,225.17 L193.60,225.46 L194.18,225.74 L194.75,226.01 L195.33,226.27 L195.91,226.53 L196.48,226.77 L197.06,227.01 L197.64,227.24 L198.21,227.46 L198.79,227.67 L199.37,227.87 L199.94,228.06 L200.52,228.25 L201.10,228.42 L201.67,228.59 L202.25,228.74 L202.83,228.89 L203.40,229.03 L203.98,229.16 L204.56,229.28 L205.13,229.39 L205.71,229.49 L206.29,229.59 L206.87,229.67 L207.44,229.74 L208.02,229.81 L208.60,229.87 L209.17,229.91 L209.75,229.95 L210.33,229.98 L210.90,230.00 L211.48,230.01 L212.06,230.01 L212.63,230.01 L213.21,229.99 L213.79,229.96 L214.36,229.93 L214.94,229.89 L215.52,229.83 L216.09,229.77 L216.67,229.70 L217.25,229.62 L217.82,229.53 L218.40,229.43 L218.98,229.32 L219.56,229.21 L220.13,229.08 L220.71,228.95 L221.29,228.80 L221.86,228.65 L222.44,228.49 L223.02,228.32 L223.59,228.14 L224.17,227.96 L224.75,227.76 L225.32,227.55 L225.90,227.34 L226.48,227.12 L227.05,226.89 L227.63,226.65 L228.21,226.40 L228.78,226.15 L229.36,225.88 L229.94,225.61 L230.52,225.33 L231.09,225.04 L231.67,224.74 L232.25,224.43 L232.82,224.12 L233.40,223.80 L233.98,223.47 L234.55,223.13 L235.13,222.78 L235.71,222.43 L236.28,222.07 L236.86,221.70 L237.44,221.32 L238.01,220.93 L238.59,220.54 L239.17,220.14 L239.74,219.74 L240.32,219.32 L240.90,218.90 L241.47,218.47 L242.05,218.03 L242.63,217.59 L243.21,217.14 L243.78,216.69 L244.36,216.22 L244.94,215.75 L245.51,215.27 L246.09,214.79 L246.67,214.30 L247.24,213.81 L247.82,213.30 L248.40,212.79 L248.97,212.28 L249.55,211.76 L250.13,211.23 L250.70,210.70 L251.28,210.16 L251.86,209.62 L252.43,209.07 L253.01,208.51 L253.59,207.95 L254.16,207.39 L254.74,206.82 L255.32,206.24 L255.90,205.66 L256.47,205.08 L257.05,204.49 L257.63,203.89 L258.20,203.30 L258.78,202.69 L259.36,202.09 L259.93,201.48 L260.51,200.86 L261.09,200.24 L261.66,199.62 L262.24,198.99 L262.82,198.36 L263.39,197.73 L263.97,197.09 L264.55,196.45 L265.12,195.81 L265.70,195.17 L266.28,194.52 L266.85,193.87 L267.43,193.22 L268.01,192.56 L268.59,191.90 L269.16,191.24 L269.74,190.58 L270.32,189.92 L270.89,189.26 L271.47,188.59 L272.05,187.92 L272.62,187.26 L273.20,186.59 L273.78,185.92 L274.35,185.25 L274.93,184.58 L275.51,183.90 L276.08,183.23 L276.66,182.56 L277.24,181.89 L277.81,181.22 L278.39,180.55 L278.97,179.88 L279.55,179.21 L280.12,178.54 L280.70,177.87 L281.28,177.21 L281.85,176.54 L282.43,175.88 L283.01,175.22 L283.58,174.56 L284.16,173.90 L284.74,173.25 L285.31,172.60 L285.89,171.95 L286.47,171.30 L287.04,170.66 L287.62,170.02 L288.20,169.38 L288.77,168.75 L289.35,168.12 L289.93,167.49 L290.50,166.87 L291.08,166.25 L291.66,165.64 L292.24,165.03 L292.81,164.43 L293.39,163.84 L293.97,163.24 L294.54,162.66 L295.12,162.08 L295.70,161.50 L296.27,160.94 L296.85,160.37 L297.43,159.82 L298.00,159.27 L298.58,158.73 L299.16,158.20 L299.73,157.67 L300.31,157.15 L300.89,156.64 L301.46,156.14 L302.04,155.64 L302.62,155.16 L303.19,154.68 L303.77,154.21 L304.35,153.76 L304.93,153.31 L305.50,152.87 L306.08,152.44 L306.66,152.02 L307.23,151.61 L307.81,151.21 L308.39,150.83 L308.96,150.45 L309.54,150.09 L310.12,149.73 L310.69,149.39 L311.27,149.06 L311.85,148.75 L312.42,148.44 L313.00,148.15 L313.58,147.87 L314.15,147.61 L314.73,147.36 L315.31,147.12 L315.88,146.90 L316.46,146.69 L317.04,146.49 L317.62,146.32 L318.19,146.15 L318.77,146.00 L319.35,145.87 L319.92,145.75 L320.50,145.65 L321.08,145.57 L321.65,145.50 L322.23,145.45 L322.81,145.42 L323.38,145.40 L323.96,145.40 L324.54,145.42 L325.11,145.46 L325.69,145.52 L326.27,145.60 L326.84,145.69 L327.42,145.81 L328.00,145.94 L328.58,146.10 L329.15,146.27 L329.73,146.47 L330.31,146.69 L330.88,146.93 L331.46,147.19 L332.04,147.47 L332.61,147.78 L333.19,148.11 L333.77,148.46 L334.34,148.83 L334.92,149.23 L335.50,149.65 L336.07,150.10 L336.65,150.57 L337.23,151.06 L337.80,151.58 L338.38,152.13 L338.96,152.70 L339.53,153.30 L340.11,153.93 L340.69,154.58 L341.27,155.26 L341.84,155.96 L342.42,156.70 L343.00,157.46 L343.57,158.25 L344.15,159.07 L344.73,159.92 L345.30,160.80 L345.88,161.71 L346.46,162.65 L347.03,163.62 L347.61,164.62 L348.19,165.65 L348.76,166.72 L349.34,167.81 L349.92,168.94 L350.49,170.10 L351.07,171.30 L351.65,172.53 L352.22,173.79 L352.80,175.08 L353.38,176.41 L353.96,177.78 L354.53,179.18 L355.11,180.62 L355.69,182.09 L356.26,183.60 L356.84,185.15 L357.42,186.73 L357.99,188.36 L358.57,190.02 L359.15,191.72 L359.72,193.45 L360.30,195.23 L360.88,197.05 L361.45,198.90 L362.03,200.80 L362.61,202.74 L363.18,204.72 L363.76,206.74 L364.34,208.80 L364.92,210.91 L365.49,213.06 L366.07,215.25 L366.65,217.48 L367.22,219.76 L367.80,222.09 L368.38,224.46 L368.95,226.87 L369.53,229.33 L370.11,231.84 L370.68,234.39 L371.26,236.99 L371.84,239.64 L372.41,242.33 L372.99,245.08 L373.57,247.87 L374.14,250.71 L374.72,253.60 L375.30,256.55 L375.87,259.54 L376.45,262.58 L377.03,265.68 L377.61,268.82 L378.18,272.02 L378.76,275.28 L379.34,278.58 L379.91,281.94 L380.49,285.35 L381.07,288.82 L381.64,292.34 L382.22,295.92 L382.80,299.56 L383.37,303.25 L383.95,307.00 L384.53,310.80 L385.10,314.67 L385.68,318.59 L386.26,322.57 L386.83,326.61 L387.41,330.71 L387.99,334.87 L388.56,339.09 L389.14,343.37 L389.72,347.71 L390.30,352.12 L390.87,356.59 L391.45,361.12 L392.03,365.71 L392.60,370.37 L393.18,375.10 L393.76,379.89 L394.33,384.74 L394.91,389.66 L395.49,394.65 L396.06,399.71 L396.64,404.83 L397.22,410.02 L397.79,415.28 L398.37,420.61 L398.95,426.01 L399.52,431.48 L400.10,437.02 L400.68,442.63 L401.25,448.31 L401.83,454.06 L402.41,459.89 L402.99,465.79 L403.56,471.77 L404.14,477.82 L404.72,483.94 L405.29,490.14 L405.87,496.42 L406.45,502.77 L407.02,509.20 L407.60,515.71" stroke="#ff0000" stroke-width="2.7" stroke-dasharray="1.4 4.835 4.7 4.835" stroke-dashoffset="8.54"/></g><path d="M782 0H584L9 1409H210L600 417L684 168L768 417L1156 1409H1357Z" transform="translate(302.4,11.4) scale(0.00705,-0.0082)" fill="#000" stroke="#000" stroke-width="60"/><g stroke="#1a1a1a" stroke-width="0.9" fill="none"><path d="M320.1,-0.3 Q314.0,7.2 319.9,14.9"/><path d="M337.3,0.3 Q342.5,7.7 337.1,14.9"/><ellipse cx="328.3" cy="7.9" rx="4.2" ry="3.3" transform="rotate(-20 328.3 7.9)"/><path d="M331.0,-0.2 L326.85,13.8"/><ellipse cx="430.3" cy="147.8" rx="4.2" ry="3.6" transform="rotate(-15 430.3 147.8)"/><path d="M432.6,140.3 L429.4,153.9"/></g></svg></body></html>
